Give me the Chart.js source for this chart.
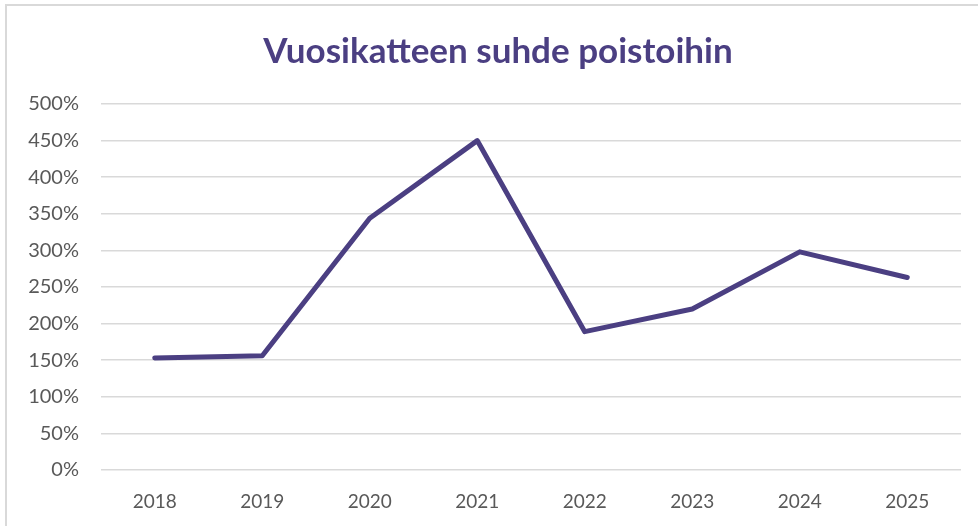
<!DOCTYPE html>
<html>
<head>
<meta charset="utf-8">
<script src="https://cdn.jsdelivr.net/npm/chart.js@4"></script>
<style>
  html, body { margin: 0; padding: 0; background: #ffffff; overflow: hidden; }
  #wrap { position: relative; width: 978px; height: 526px; }
  #frame { position: absolute; left: 5px; top: 4px; width: 1000px; height: 600px;
           border: 2px solid #d9d9d9; pointer-events: none; }
  canvas { position: absolute; left: 0; top: 0; }
</style>
</head>
<body>
<div id="wrap">
  <canvas id="c" width="978" height="526"></canvas>
  <div id="frame"></div>
</div>
<script>
const title = 'Vuosikatteen suhde poistoihin';
const years = ['2018', '2019', '2020', '2021', '2022', '2023', '2024', '2025'];
const ratioPercent = [153, 156, 344, 450, 189, 220, 298, 263];
const yTickMin = 0;
const yTickMax = 500;
const yTickStep = 50;

const purple = '#4b3f82';
const labelColor = '#595959';
const gridColor = '#d9d9d9';
const fontFamily = 'Lato, "Open Sans", sans-serif';

new Chart(document.getElementById('c'), {
  type: 'line',
  data: {
    labels: years,
    datasets: [{
      label: title,
      data: ratioPercent,
      borderColor: purple,
      backgroundColor: purple,
      borderWidth: 5,
      pointRadius: 0,
      pointHoverRadius: 0,
      tension: 0,
      borderCapStyle: 'round',
      borderJoinStyle: 'round',
      fill: false
    }]
  },
  options: {
    responsive: false,
    animation: false,
    events: [],
    layout: { padding: { left: 18, right: 0, top: 0, bottom: 0 } },
    plugins: {
      legend: { display: false },
      tooltip: { enabled: false },
      title: {
        display: true,
        text: title,
        color: purple,
        font: { family: fontFamily, size: 35, weight: 'bold', lineHeight: 1.2 },
        padding: { top: 31, bottom: 31 }
      }
    },
    scales: {
      x: {
        offset: true,
        grid: { display: false, drawTicks: false },
        border: { display: false },
        ticks: {
          color: labelColor,
          font: { family: fontFamily, size: 19 },
          padding: 20,
          maxRotation: 0
        },
        afterFit: (s) => { s.height = 56; }
      },
      y: {
        min: yTickMin,
        max: yTickMax,
        grid: { color: gridColor, lineWidth: 1.5, drawTicks: false },
        border: { display: false },
        ticks: {
          stepSize: yTickStep,
          color: labelColor,
          font: { family: fontFamily, size: 20 },
          padding: 22,
          callback: (v) => v + '%'
        },
        afterFit: (s) => { s.width = 83; }
      },
      spacer: {
        type: 'linear',
        position: 'right',
        display: true,
        grid: { display: false, drawTicks: false },
        border: { display: false },
        ticks: { display: false },
        afterFit: (s) => { s.width = 17; }
      }
    }
  }
});
</script>
</body>
</html>
